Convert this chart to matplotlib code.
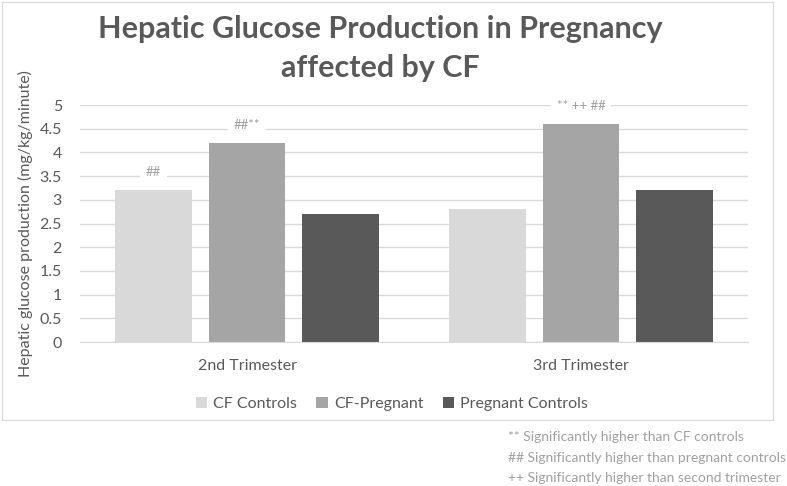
import numpy as np
import matplotlib.pyplot as plt
from matplotlib.patches import Rectangle

plt.rcParams['font.family'] = ['Lato', 'DejaVu Sans']

# datos
trimestres = ['2nd Trimester', '3rd Trimester']
series = ['CF Controls', 'CF-Pregnant', 'Pregnant Controls']
cf_controls = [3.2, 2.8]
cf_pregnant = [4.2, 4.6]
pregnant_controls = [2.7, 3.2]
colores = ['#d9d9d9', '#a5a5a5', '#595959']

# marcas de significancia (serie, trimestre, texto)
marcas = [(0, 0, '##'), (1, 0, '##**'), (1, 1, '** ++ ##')]
notas = ['** Significantly higher than CF controls',
         '## Significantly higher than pregnant controls',
         '++ Significantly higher than second trimester']

fig = plt.figure(figsize=(7.87, 4.86), dpi=100)
# marco del area del grafico
fig.patches.append(Rectangle((2 / 787, 66 / 486), 771 / 787, 418 / 486,
                             transform=fig.transFigure, fill=False,
                             edgecolor='#d9d9d9', linewidth=0.8))

ax = fig.add_axes([80 / 787, 144 / 486, 668 / 787, 237 / 486])

x = np.arange(len(trimestres))
ancho = 0.23
paso = 0.28
valores = [cf_controls, cf_pregnant, pregnant_controls]
for i, (nombre, vals) in enumerate(zip(series, valores)):
    ax.bar(x + (i - 1) * paso, vals, ancho, color=colores[i], label=nombre, zorder=2)

for s, t, txt in marcas:
    v = valores[s][t]
    ax.text(x[t] + (s - 1) * paso, v + 0.38, txt, ha='center', va='center',
            fontsize=9.5, color='#a0a0a0', zorder=3,
            bbox=dict(facecolor='white', edgecolor='none', pad=4))

ax.set_xlim(-0.5, 1.5)
ax.set_ylim(0, 5)
ax.set_yticks(np.arange(0, 5.01, 0.5))
ax.set_yticklabels(['0', '0.5', '1', '1.5', '2', '2.5', '3', '3.5', '4', '4.5', '5'])
ax.set_xticks(x)
ax.set_xticklabels(trimestres)
ax.grid(axis='y', color='#d9d9d9', linewidth=1, zorder=0)
for lado in ['top', 'right', 'left']:
    ax.spines[lado].set_visible(False)
ax.spines['bottom'].set_color('#d9d9d9')
ax.tick_params(length=0, colors='#595959', labelsize=11.5)
ax.tick_params(axis='y', pad=13)
ax.tick_params(axis='x', pad=12)
ax.set_ylabel('Hepatic glucose production (mg/kg/minute)', fontsize=11.5,
              color='#595959', labelpad=5)

fig.suptitle('Hepatic Glucose Production in Pregnancy\naffected by CF',
             x=380 / 787, y=1 - 15 / 486, va='top', fontsize=22,
             fontweight='bold', color='#595959', linespacing=1.5)

ax.legend(loc='center', bbox_to_anchor=(392 / 787, 1 - 404 / 486),
          bbox_transform=fig.transFigure, ncol=3, frameon=False,
          fontsize=11.5, labelcolor='#595959', handlelength=0.7,
          handleheight=0.7, handletextpad=0.4, columnspacing=1.2)

for k, nota in enumerate(notas):
    fig.text(508 / 787, 1 - (437 + 20.5 * k) / 486, nota, fontsize=10,
             color='#a0a0a0', va='center', ha='left')

fig.savefig('out.png', dpi=100)
